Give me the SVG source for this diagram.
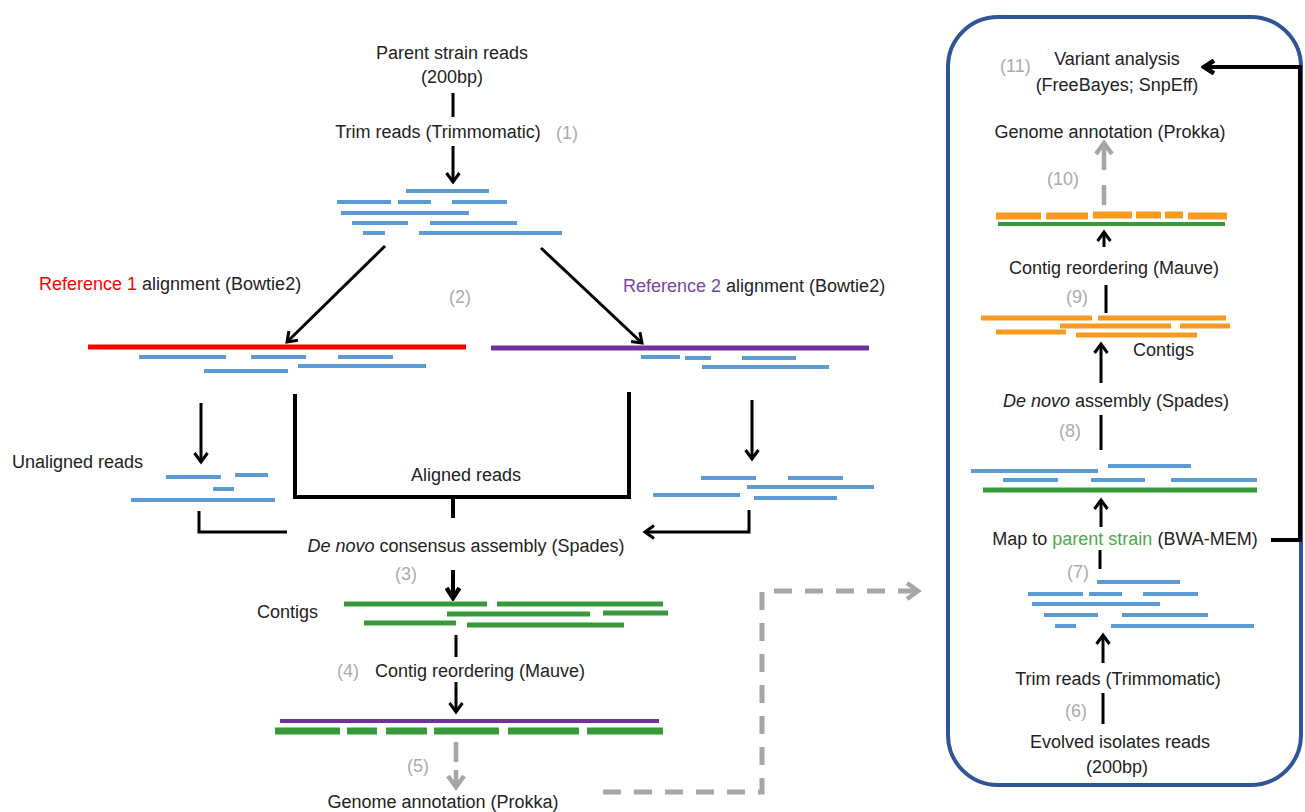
<svg xmlns="http://www.w3.org/2000/svg" width="1305" height="812" viewBox="0 0 1305 812">
<style>
text{font-family:"Liberation Sans",Arial,sans-serif;font-size:18px;fill:#222}
.c{text-anchor:middle}
.g{fill:#ABABAB}
.blue{stroke:#5B9BD5;stroke-width:4;fill:none}
.grn{stroke:#37993A;stroke-width:5;fill:none}
.org{stroke:#F79A22;stroke-width:5;fill:none}
.blk{stroke:#000;stroke-width:3;fill:none}
.thk{stroke:#000;stroke-width:4;fill:none}
.gd{stroke:#A6A6A6;stroke-width:5;fill:none;stroke-dasharray:18 13}
</style>
<defs>
<marker id="ah" viewBox="0 0 16 16" markerWidth="16" markerHeight="16" refX="13" refY="8" orient="auto" markerUnits="userSpaceOnUse">
<path d="M4,1.5 L13,8 L4,14.5" fill="none" stroke="#000" stroke-width="3"/>
</marker>
<marker id="ahb" viewBox="0 0 16 16" markerWidth="16" markerHeight="16" refX="13" refY="8" orient="auto" markerUnits="userSpaceOnUse">
<path d="M3,1.5 L13,8 L3,14.5" fill="none" stroke="#000" stroke-width="4.5"/>
</marker>
<marker id="ahg" viewBox="0 0 20 20" markerWidth="20" markerHeight="20" refX="16" refY="10" orient="auto" markerUnits="userSpaceOnUse">
<path d="M5,2 L16,10 L5,18" fill="none" stroke="#A6A6A6" stroke-width="4.5"/>
</marker>
</defs>

<rect id="box" x="948" y="17" width="353" height="768" rx="50" fill="none" stroke="#2F5597" stroke-width="4"/>

<g id="connectors">
<line class="blk" x1="453" y1="93" x2="453" y2="117"/>
<line class="blk" x1="453" y1="146" x2="453" y2="182" marker-end="url(#ah)"/>
<line class="blk" x1="385" y1="246" x2="287" y2="342" marker-end="url(#ah)"/>
<line class="blk" x1="541" y1="248" x2="642" y2="343" marker-end="url(#ah)"/>
<line class="blk" x1="201" y1="403" x2="201" y2="462" marker-end="url(#ah)"/>
<line class="blk" x1="752" y1="400" x2="752" y2="459" marker-end="url(#ah)"/>
<path class="thk" d="M295,394 V497 H629 V392"/>
<line class="thk" x1="453" y1="497" x2="453" y2="518"/>
<path class="blk" d="M199,511 V532 H287"/>
<path class="blk" d="M749,510 V532 H645" marker-end="url(#ah)"/>
<line class="thk" x1="453" y1="570" x2="453" y2="598" marker-end="url(#ahb)"/>
<line class="blk" x1="456" y1="635" x2="456" y2="657"/>
<line class="blk" x1="456" y1="682" x2="456" y2="712" marker-end="url(#ah)"/>
<line stroke="#A6A6A6" stroke-width="4.5" x1="456" y1="742" x2="456" y2="762"/>
<line stroke="#A6A6A6" stroke-width="4.5" x1="456" y1="770" x2="456" y2="787" marker-end="url(#ahg)"/>
<path class="gd" d="M603,792 H762 V591 H918" marker-end="url(#ahg)"/>
<line class="blk" x1="1103" y1="724" x2="1103" y2="693"/>
<line class="blk" x1="1103" y1="663" x2="1103" y2="635" marker-end="url(#ah)"/>
<line class="blk" x1="1100" y1="569" x2="1100" y2="550"/>
<line class="blk" x1="1101" y1="527" x2="1101" y2="500" marker-end="url(#ah)"/>
<line class="blk" x1="1101" y1="450" x2="1101" y2="415"/>
<line class="blk" x1="1101" y1="383" x2="1101" y2="344" marker-end="url(#ah)"/>
<line class="blk" x1="1106" y1="313" x2="1106" y2="285"/>
<line class="blk" x1="1104" y1="247" x2="1104" y2="232" marker-end="url(#ah)"/>
<line stroke="#A6A6A6" stroke-width="4.5" x1="1104" y1="205" x2="1104" y2="185"/>
<line stroke="#A6A6A6" stroke-width="4.5" x1="1104" y1="170" x2="1104" y2="143" marker-end="url(#ahg)"/>
<path class="thk" d="M1271,540 H1300 V67 H1204" marker-end="url(#ahb)"/>
</g>

<g id="parent-reads">
<text class="c" x="452" y="59">Parent strain reads</text>
<text class="c" x="452" y="83">(200bp)</text>
</g>
<g id="trim1">
<text class="c" x="438" y="138">Trim reads (Trimmomatic)</text>
<text class="g" x="556" y="139">(1)</text>
</g>
<g id="reads1" class="blue">
<line x1="406" y1="191" x2="489" y2="191"/>
<line x1="337" y1="202" x2="391" y2="202"/>
<line x1="398" y1="202" x2="431" y2="202"/>
<line x1="452" y1="202" x2="507" y2="202"/>
<line x1="341" y1="213" x2="469" y2="213"/>
<line x1="352" y1="223" x2="408" y2="223"/>
<line x1="430" y1="223" x2="517" y2="223"/>
<line x1="363" y1="233" x2="385" y2="233"/>
<line x1="419" y1="233" x2="562" y2="233"/>
</g>

<g id="ref1">
<text x="39" y="290"><tspan fill="#FF0000">Reference 1</tspan> alignment (Bowtie2)</text>
<line x1="88" y1="347" x2="466" y2="347" stroke="#FF0000" stroke-width="5"/>
<g class="blue">
<line x1="139" y1="357" x2="226" y2="357"/>
<line x1="251" y1="357" x2="306" y2="357"/>
<line x1="338" y1="357" x2="393" y2="357"/>
<line x1="298" y1="366" x2="426" y2="366"/>
<line x1="204" y1="371" x2="288" y2="371"/>
</g>
</g>
<g id="step2"><text class="g" x="449" y="303">(2)</text></g>

<g id="ref2">
<text x="623" y="292"><tspan fill="#7B45A8">Reference 2</tspan> alignment (Bowtie2)</text>
<line x1="491" y1="348" x2="869" y2="348" stroke="#7030A0" stroke-width="5"/>
<g class="blue">
<line x1="641" y1="357" x2="680" y2="357"/>
<line x1="685" y1="358" x2="711" y2="358"/>
<line x1="742" y1="358" x2="796" y2="358"/>
<line x1="702" y1="367" x2="829" y2="367"/>
</g>
</g>

<g id="unaligned1">
<text x="12" y="468">Unaligned reads</text>
<g class="blue">
<line x1="166" y1="477" x2="221" y2="477"/>
<line x1="235" y1="475" x2="268" y2="475"/>
<line x1="213" y1="489" x2="234" y2="489"/>
<line x1="131" y1="500" x2="275" y2="500"/>
</g>
</g>
<g id="aligned"><text class="c" x="466" y="481">Aligned reads</text></g>
<g id="unaligned2" class="blue">
<line x1="701" y1="478" x2="756" y2="478"/>
<line x1="788" y1="478" x2="843" y2="478"/>
<line x1="747" y1="487" x2="874" y2="487"/>
<line x1="653" y1="495" x2="740" y2="495"/>
<line x1="754" y1="498" x2="837" y2="498"/>
</g>

<g id="denovo1">
<text class="c" x="466" y="552"><tspan font-style="italic">De novo</tspan> consensus assembly (Spades)</text>
<text class="g" x="395" y="580">(3)</text>
</g>

<g id="contigs1">
<text x="257" y="618">Contigs</text>
<g class="grn">
<line x1="344" y1="604" x2="487" y2="604"/>
<line x1="497" y1="604" x2="663" y2="604"/>
<line x1="447" y1="614" x2="590" y2="614"/>
<line x1="603" y1="613" x2="668" y2="613"/>
<line x1="364" y1="623" x2="456" y2="623"/>
<line x1="467" y1="625" x2="624" y2="625"/>
</g>
</g>

<g id="reorder1">
<text class="g" x="337" y="677">(4)</text>
<text x="375" y="677">Contig reordering (Mauve)</text>
</g>

<g id="ordered1">
<line x1="280" y1="721" x2="659" y2="721" stroke="#7030A0" stroke-width="4"/>
<g stroke="#37993A" stroke-width="7">
<line x1="275" y1="731" x2="340" y2="731"/>
<line x1="347" y1="731" x2="377" y2="731"/>
<line x1="386" y1="731" x2="427" y2="731"/>
<line x1="434" y1="731" x2="499" y2="731"/>
<line x1="508" y1="731" x2="579" y2="731"/>
<line x1="587" y1="731" x2="663" y2="731"/>
</g>
</g>

<g id="annot1">
<text class="g" x="407" y="772">(5)</text>
<text class="c" x="443" y="808">Genome annotation (Prokka)</text>
</g>

<g id="variant">
<text class="g" x="1000" y="72">(11)</text>
<text class="c" x="1117" y="65">Variant analysis</text>
<text class="c" x="1117" y="91">(FreeBayes; SnpEff)</text>
</g>
<g id="annot2">
<text class="c" x="1110" y="138">Genome annotation (Prokka)</text>
<text class="g" x="1047" y="185">(10)</text>
</g>
<g id="ordered2">
<g stroke="#F79A22" stroke-width="7">
<line x1="996" y1="216" x2="1041" y2="216"/>
<line x1="1046" y1="216" x2="1088" y2="216"/>
<line x1="1093" y1="215" x2="1132" y2="215"/>
<line x1="1136" y1="215" x2="1161" y2="215"/>
<line x1="1165" y1="215" x2="1183" y2="215"/>
<line x1="1188" y1="216" x2="1227" y2="216"/>
</g>
<line x1="998" y1="224" x2="1225" y2="224" stroke="#37993A" stroke-width="4"/>
</g>
<g id="reorder2">
<text class="c" x="1114" y="274">Contig reordering (Mauve)</text>
<text class="g" x="1066" y="303">(9)</text>
</g>
<g id="contigs2">
<g class="org">
<line x1="981" y1="318" x2="1092" y2="318"/>
<line x1="1098" y1="318" x2="1226" y2="318"/>
<line x1="1060" y1="326" x2="1171" y2="326"/>
<line x1="1180" y1="326" x2="1230" y2="326"/>
<line x1="996" y1="332" x2="1066" y2="332"/>
<line x1="1076" y1="335" x2="1197" y2="335"/>
</g>
<text x="1133" y="356">Contigs</text>
</g>
<g id="denovo2">
<text class="c" x="1116" y="407"><tspan font-style="italic">De novo</tspan> assembly (Spades)</text>
<text class="g" x="1059" y="437">(8)</text>
</g>
<g id="mapped">
<g class="blue">
<line x1="1108" y1="466" x2="1191" y2="466"/>
<line x1="971" y1="471" x2="1098" y2="471"/>
<line x1="1003" y1="480" x2="1058" y2="480"/>
<line x1="1091" y1="480" x2="1145" y2="480"/>
<line x1="1171" y1="480" x2="1257" y2="480"/>
</g>
<line x1="983" y1="490" x2="1257" y2="490" stroke="#37993A" stroke-width="5"/>
</g>
<g id="map">
<text class="c" x="1125" y="545">Map to <tspan fill="#4EA84E">parent strain</tspan> (BWA-MEM)</text>
<text class="g" x="1067" y="578">(7)</text>
</g>
<g id="reads2" class="blue">
<line x1="1097" y1="582" x2="1180" y2="582"/>
<line x1="1028" y1="594" x2="1083" y2="594"/>
<line x1="1089" y1="594" x2="1122" y2="594"/>
<line x1="1143" y1="594" x2="1198" y2="594"/>
<line x1="1032" y1="604" x2="1160" y2="604"/>
<line x1="1044" y1="615" x2="1098" y2="615"/>
<line x1="1122" y1="615" x2="1208" y2="615"/>
<line x1="1055" y1="626" x2="1076" y2="626"/>
<line x1="1111" y1="626" x2="1254" y2="626"/>
</g>
<g id="trim2">
<text class="c" x="1118" y="685">Trim reads (Trimmomatic)</text>
<text class="g" x="1065" y="717">(6)</text>
</g>
<g id="evolved">
<text class="c" x="1120" y="748">Evolved isolates reads</text>
<text class="c" x="1117" y="773">(200bp)</text>
</g>
</svg>
